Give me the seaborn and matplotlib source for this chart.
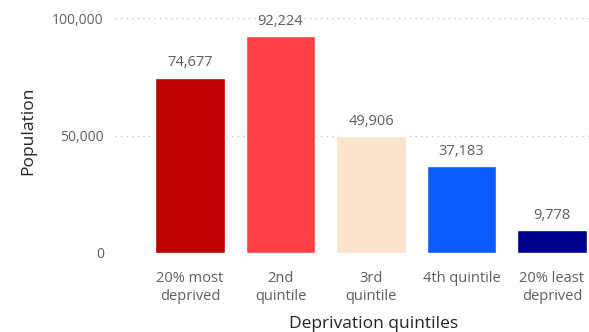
import seaborn as sns
import matplotlib.pyplot as plt
from matplotlib.ticker import FuncFormatter

# dados
quintis = ['20% most\ndeprived', '2nd\nquintile', '3rd\nquintile', '4th quintile', '20% least\ndeprived']
populacao = [74677, 92224, 49906, 37183, 9778]
cores = ['#BF0000', '#FE3F44', '#FCE4CC', '#0B5CFF', '#00008F']

sns.set_style('white')
plt.rcParams['font.family'] = ['Open Sans', 'DejaVu Sans']

fig = plt.figure(figsize=(5.89, 3.32), dpi=100)
ax = fig.add_axes([115 / 589, 1 - 253 / 332, 474 / 589, 235 / 332])

sns.barplot(x=quintis, y=populacao, hue=quintis, palette=cores, legend=False,
            width=0.77, saturation=1, ax=ax)

# rótulos de valor
for i, v in enumerate(populacao):
    ax.annotate(f'{v:,}', (i, v), xytext=(0, 10.5), textcoords='offset points',
                ha='center', va='center', fontsize=10.5, color='#605E5C')

ax.set_xlim(-0.83, 4.41)
ax.set_ylim(0, 100000)
ax.set_yticks([0, 50000, 100000])
ax.yaxis.set_major_formatter(FuncFormatter(lambda v, p: f'{int(v):,}'))
ax.grid(axis='y', linestyle=(0, (1, 3)), color='#C8C8C8', linewidth=1)
ax.set_axisbelow(True)
sns.despine(ax=ax, left=True, bottom=True)
ax.tick_params(axis='both', length=0, colors='#605E5C')
ax.tick_params(axis='y', pad=8, labelsize=10)
ax.tick_params(axis='x', pad=13, labelsize=10.5)
for lbl in ax.get_xticklabels():
    lbl.set_linespacing(1.3)

ax.set_ylabel('Population', fontsize=12.5, color='#252423')
ax.set_xlabel('Deprivation quintiles', fontsize=12.5, color='#252423')
ax.yaxis.set_label_coords(-0.1835, 0.519)
ax.yaxis.label.set_va('center')
ax.xaxis.set_label_coords(0.546, -0.30)
ax.xaxis.label.set_va('center')

fig.savefig('out.png', dpi=100)
